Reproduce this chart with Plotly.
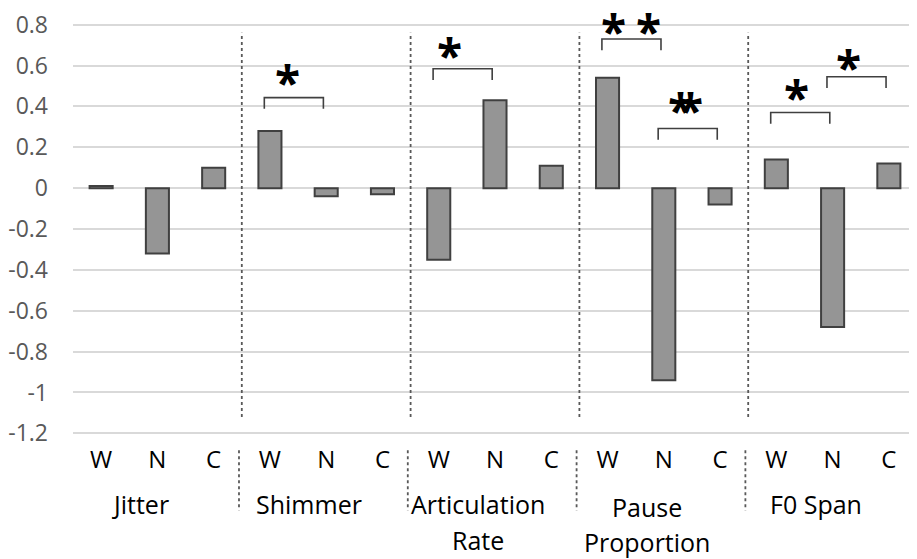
import plotly.graph_objects as go

# ---- data ----
groups = ["Jitter", "Shimmer", "Articulation Rate", "Pause Proportion", "F0 Span"]
group_lines = [["Jitter"], ["Shimmer"], ["Articulation", "Rate"], ["Pause", "Proportion"], ["F0 Span"]]
subgroups = ["W", "N", "C"]
jitter = [0.01, -0.32, 0.10]
shimmer = [0.28, -0.04, -0.03]
articulation_rate = [-0.35, 0.43, 0.11]
pause_proportion = [0.54, -0.94, -0.08]
f0_span = [0.14, -0.68, 0.12]
series = [jitter, shimmer, articulation_rate, pause_proportion, f0_span]
y_ticks = [0.8, 0.6, 0.4, 0.2, 0, -0.2, -0.4, -0.6, -0.8, -1, -1.2]
y_tick_text = ["0.8", "0.6", "0.4", "0.2", "0", "-0.2", "-0.4", "-0.6", "-0.8", "-1", "-1.2"]

# significance comparisons: (group index, from subgroup, to subgroup, bracket height)
comparisons = [
    (1, 0, 1, 0.443),
    (2, 0, 1, 0.584),
    (3, 0, 1, 0.730),
    (3, 1, 2, 0.292),
    (4, 0, 1, 0.370),
    (4, 1, 2, 0.545),
]
# asterisk marks: (x position in category units, y)
stars = [
    (3.32, 0.56), (6.19, 0.69), (9.10, 0.81), (9.73, 0.81),
    (10.29, 0.42), (10.47, 0.42), (12.35, 0.487), (13.28, 0.633),
]

Y_MIN, Y_MAX = -1.2, 0.8
EPS = 0.008

xs, ys = [], []
for gi, vals in enumerate(series):
    for si, v in enumerate(vals):
        xs.append(gi * 3 + si)
        ys.append(v)
tick_labels = [subgroups[si] for gi in range(len(groups)) for si in range(3)]

fig = go.Figure()
fig.add_trace(go.Bar(
    x=xs, y=ys, width=0.41,
    marker=dict(color="#959595", line=dict(color="#404040", width=2)),
    showlegend=False,
))

shapes = []
annotations = []

# dotted separators between groups
for b in range(1, len(groups)):
    xb = b * 3 - 0.5
    shapes.append(dict(type="line", xref="x", yref="y", x0=xb, x1=xb, y0=-1.12, y1=0.76,
                       line=dict(color="#595959", width=1.8, dash="dot")))
    shapes.append(dict(type="line", xref="x", yref="paper", x0=xb - 0.05, x1=xb - 0.05,
                       y0=-0.037, y1=-0.183,
                       line=dict(color="#595959", width=1.8, dash="dot")))

# brackets
tick = 0.055
for gi, a, b, h in comparisons:
    x0 = gi * 3 + a - 0.1
    x1 = gi * 3 + b - 0.05
    shapes.append(dict(type="path", xref="x", yref="y",
                       path=f"M {x0},{h - tick} L {x0},{h} L {x1},{h} L {x1},{h - tick}",
                       line=dict(color="#404040", width=1.6)))

y_lo, y_hi = Y_MIN - EPS, Y_MAX + EPS
for sx, sy in stars:
    annotations.append(dict(x=sx, y=(sy - y_lo) / (y_hi - y_lo), xref="x", yref="paper",
                            text="<b>*</b>", showarrow=False,
                            font=dict(family="Open Sans", size=46, color="black"),
                            yanchor="middle", yshift=-8))

# group labels
line_y = [[-0.168], [-0.168], [-0.168, -0.255], [-0.175, -0.260], [-0.168]]
for gi, lines in enumerate(group_lines):
    for li, txt in enumerate(lines):
        annotations.append(dict(x=gi * 3 + 1, y=line_y[gi][li], xref="x", yref="paper",
                                text=txt, showarrow=False, xshift=-17,
                                font=dict(family="Open Sans", size=25, color="black"),
                                yanchor="middle"))

fig.update_layout(
    width=909, height=551,
    margin=dict(l=64, r=0, t=12, b=124),
    paper_bgcolor="white", plot_bgcolor="white",
    shapes=shapes, annotations=annotations,
    xaxis=dict(range=[-0.5, 14.5], tickvals=list(range(15)), ticktext=tick_labels,
               showgrid=False, zeroline=False, showline=False, ticks="",
               tickfont=dict(family="Open Sans", size=24, color="black"),
               ticklabelstandoff=8, fixedrange=True),
    yaxis=dict(range=[y_lo, y_hi], tickvals=y_ticks, ticktext=y_tick_text,
               showgrid=True, gridcolor="#d9d9d9", gridwidth=2,
               zeroline=True, zerolinecolor="#d9d9d9", zerolinewidth=2,
               showline=False, ticks="", ticklabeloverflow="allow",
               tickfont=dict(family="Open Sans", size=23, color="#595959"),
               ticklabelstandoff=24, fixedrange=True),
)

fig.write_html("out.html")
